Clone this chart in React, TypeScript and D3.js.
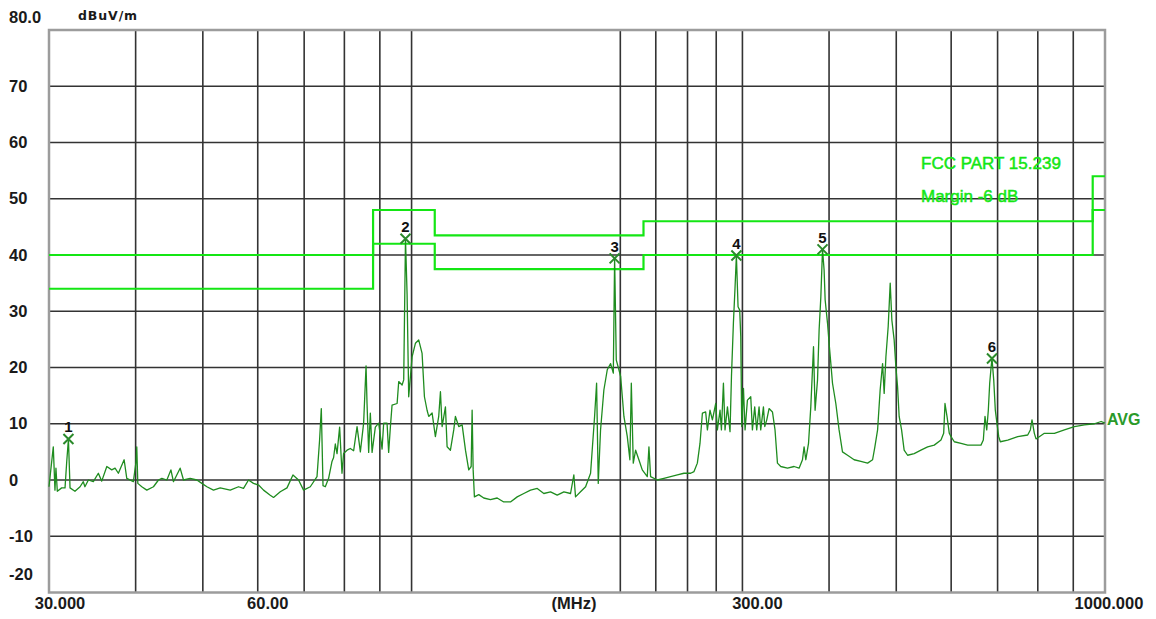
import React from "react";
import * as d3 from "d3";

const W = 1156;
const H = 619;
const PLOT = { left: 49, right: 1105, top: 30, bottom: 592.5 };

// Y axis (dBuV/m)
const yDomain: [number, number] = [-20, 80];
const yTicks = [80, 70, 60, 50, 40, 30, 20, 10, 0, -10, -20];
const yTickLabels = ["80.0", "70", "60", "50", "40", "30", "20", "10", "0", "-10", "-20"];

// X axis (MHz, log)
const xDomain: [number, number] = [30, 1000];
const xGridMHz = [40, 50, 60, 70, 80, 90, 100, 200, 225, 250, 275, 300, 400, 500, 600, 700, 800, 900];
const xTickMHz = [30, 60, 300, 1000];
const xTickLabels = ["30.000", "60.00", "300.00", "1000.000"];

// Limit lines
const limitEdgesMHz = [30, 88, 108, 216, 960, 1000];
const limitDb = [40, 48, 43.5, 46, 54];
const marginDb = [34, 42, 37.5, 40, 48];

// Markers
const markerMHz = [32.0, 98.0, 196.25, 294.05, 391.4, 687.1];
const markerDb = [7.3, 42.9, 39.4, 39.9, 41.0, 21.6];
const markerLabels = ["1", "2", "3", "4", "5", "6"];

// Measured trace [MHz, dBuV/m]
const trace: [number, number][] = [
  [30.0, -1.2], [30.43, 5.9], [30.6, -1.8], [30.7, 2.1], [30.84, -2], [31.29, -1.4], [31.64, -1.4], [31.82, 3.3],
  [32.0, 7.3], [32.17, -1.4], [32.7, -2], [33.26, -1.2], [33.62, -0.3], [33.8, -1.2], [34.19, 0], [34.76, -0.3],
  [35.34, 1.2], [35.74, -0.2], [36.35, 2.4], [36.95, 1.8], [37.36, 2.1], [37.77, 1.2], [38.5, 3.6], [38.84, 0.3],
  [39.7, -0.3], [40.06, 3.3], [40.15, 5.9], [40.29, -0.6], [40.83, -1.2], [41.51, -1.8], [42.44, -1.2], [43.15, 0],
  [43.64, 0.3], [44.37, 0], [44.97, 1.8], [45.35, -0.3], [46.37, 2.1], [46.89, 0], [47.94, 0.3], [49.02, 0],
  [49.84, -0.6], [50.68, -1.2], [51.8, -1.8], [52.97, -1.4], [54.76, -1.8], [56.29, -1.2], [57.23, -1.5], [58.19, 0],
  [59.16, -0.6], [60.17, -0.9], [61.17, -1.8], [62.54, -2.7], [63.23, -3.1], [64.66, -2.1], [66.12, -1.4], [67.44, 0.9],
  [68.71, 0], [69.86, -1.8], [71.44, -1.2], [73.05, 0.6], [73.68, 7.1], [74.1, 12.7], [74.52, -1], [75.09, -1.2],
  [75.92, 0.3], [76.78, 3.3], [77.19, 4], [77.63, 6.4], [78.07, 4.7], [78.75, 9.4], [79.37, 1.2], [79.79, 4.7],
  [80.72, 5.3], [81.59, 5.6], [82.5, 5.2], [83.44, 9.5], [84.36, 5.0], [85.28, 10.1], [85.97, 20.3], [86.25, 13.6],
  [86.72, 4.9], [87.2, 11.9], [87.71, 4.9], [88.66, 9.4], [89.65, 10.1], [90.67, 5.5], [91.15, 10.1], [92.18, 10.1],
  [92.67, 4.9], [93.2, 9.4], [93.72, 13.3], [95.31, 13.6], [95.82, 17.5], [96.9, 16.9], [97.42, 17.8], [98.0, 42.9],
  [98.52, 33], [99.05, 14.8], [99.62, 18.4], [100.17, 21.9], [101.28, 24.3], [102.39, 24.9], [103.55, 22.5], [104.36, 14.8],
  [105.28, 12.4], [105.86, 11.3], [107.06, 11.9], [108.23, 7.7], [109.43, 11.3], [110.06, 15.7], [110.67, 9.5], [111.9, 13],
  [112.52, 5.9], [113.77, 5.3], [115.03, 8.9], [115.67, 11.3], [116.96, 9.5], [118.28, 9.8], [119.6, 5.3], [120.9, 1.8],
  [121.88, 2.4], [122.27, 12.4], [122.69, 1.8], [123.2, -3], [125, -2.6], [127.09, -3.2], [129.93, -3.5], [132.87, -3.2],
  [135.81, -3.9], [138.87, -3.9], [142.01, -3.0], [145.15, -2.4], [148.43, -1.8], [151.78, -1.5], [155.14, -2.4], [158.65, -2.1],
  [162.19, -2.7], [165.82, -2.1], [169.53, -2.4], [171.41, 0.9], [172.36, -3], [175.25, -2.1], [178.22, -1.2], [181.19, 1.2],
  [183.62, 11.3], [184.85, 17.2], [185.87, -0.6], [187.29, 8.9], [189.37, 16], [191.52, 19.6], [193.65, 20.7], [195.4, 19.0],
  [196.25, 39.4], [197.34, 21.3], [199.07, 19.6], [200.22, 18.4], [201.33, 14.8], [202.4, 11.3], [204.69, 7.7], [206.45, 3.6],
  [207.44, 17.2], [208.79, 3.0], [210.43, 5.3], [212.72, 3.6], [215.13, 1.8], [218.73, 0.6], [219.94, 5.9], [221.16, 0.6],
  [226.16, 0], [231.16, 0.3], [236.38, 0.6], [241.71, 0.9], [247.06, 1.2], [252.64, 1.2], [255.45, 1.5], [258.3, 3],
  [260.57, 6.5], [262.67, 11.9], [265.54, 12.1], [267.07, 8.9], [269.36, 12.4], [271.54, 10.7], [274.55, 13.6], [276.08, 8.9],
  [278.5, 12.4], [279.79, 8.9], [281.66, 17.2], [283.16, 8.9], [285.45, 13], [287.89, 8.6], [289.28, 18.4], [291.15, 27.9],
  [292.7, 34.1], [294.05, 39.9], [295.68, 30.8], [297.32, 30.2], [298.35, 25.5], [299.31, 9.5], [301.04, 16.3], [302.64, 8.9],
  [305.02, 14.2], [308.41, 14.8], [310.12, 8.9], [312.49, 13], [314.58, 8.9], [317.05, 13], [318.81, 8.9], [321.68, 13],
  [323.09, 9.5], [325.26, 10.7], [327.74, 12.7], [331.46, 12.1], [334.3, 8.9], [337, 3], [340.75, 2.4], [348.44, 2.1],
  [356.15, 2.4], [362.1, 2.1], [366.21, 3.6], [368.16, 5.9], [370.28, 3.6], [373.62, 6.5], [376.47, 13], [379.87, 23.7],
  [381.88, 12.4], [384.97, 17.8], [387.02, 26.7], [389.25, 32.6], [391.41, 41], [393.49, 37.3], [394.85, 32], [397.95, 27.9],
  [400.06, 24.3], [402.37, 20.7], [404.6, 17.2], [409.09, 13.6], [413.54, 8.9], [418.23, 5], [425.33, 4.4], [434.74, 3.6],
  [444.56, 3.3], [454.6, 3], [462.21, 3.6], [465.73, 5.9], [469.94, 8.9], [473.96, 16], [477.8, 20.7], [480.33, 15.4],
  [483.11, 21.9], [486.79, 27.3], [490.05, 35], [492.77, 28.4], [496.52, 24.9], [499.39, 20.1], [502.16, 16.6], [504.83, 11.3],
  [508.91, 8.9], [513.27, 5.3], [519.21, 4.4], [530.69, 4.7], [542.66, 5.3], [554.93, 5.9], [567.22, 6.2], [580.03, 7.1],
  [585.27, 8.3], [587.83, 13.6], [591.77, 11.3], [596.28, 8.3], [599.72, 7.7], [606.26, 6.8], [619.96, 6.5], [633.83, 6.2],
  [647.98, 6.2], [662.41, 6.2], [667.62, 7.1], [671.32, 11.3], [675.2, 8.9], [678.78, 12.4], [681.91, 17.2], [684.91, 19.9],
  [687.12, 21.6], [691.08, 17.8], [694.76, 12.4], [698.6, 10], [702.64, 7.7], [706.37, 6.8], [723.98, 7.1], [748.38, 7.7],
  [773.6, 8], [780.4, 8.9], [784.73, 10.7], [790.89, 8.3], [795.28, 7.3], [817.57, 8.3], [845.32, 8.3], [873.82, 8.9],
  [903.3, 9.5], [933.98, 9.8], [965.47, 10.0], [987.3, 10.4], [1000, 10.1],
];

const x = d3.scaleLog().domain(xDomain).range([PLOT.left, PLOT.right]);
const y = d3.scaleLinear().domain(yDomain).range([PLOT.bottom, PLOT.top]);

const stepLine = d3
  .line<[number, number]>()
  .x((d) => x(d[0]))
  .y((d) => y(d[1]))
  .curve(d3.curveStepAfter);

const traceLine = d3
  .line<[number, number]>()
  .x((d) => x(d[0]))
  .y((d) => y(d[1]));

function stepPoints(levels: number[]): [number, number][] {
  const pts: [number, number][] = levels.map((v, i) => [limitEdgesMHz[i], v]);
  pts.push([limitEdgesMHz[limitEdgesMHz.length - 1], levels[levels.length - 1]]);
  return pts;
}

const AXIS_FONT = "'Liberation Sans', Arial, sans-serif";
const LIMIT_GREEN = "#14e614";
const TRACE_GREEN = "#1f8c1f";

export default function App() {
  const xLabelDx = [11, 10, 15, 4];
  return (
    <svg
      width={W}
      height={H}
      viewBox={`0 0 ${W} ${H}`}
      style={{ position: "fixed", left: 0, top: 0, background: "#fff" }}
    >
      <rect x={0} y={0} width={W} height={H} fill="#fff" />
      {/* horizontal grid */}
      {yTicks
        .filter((v) => v !== 80 && v !== -20)
        .map((v) => (
          <line key={"h" + v} x1={PLOT.left} x2={PLOT.right} y1={y(v)} y2={y(v)} stroke="#333" strokeWidth={1.6} />
        ))}
      {/* vertical grid */}
      {xGridMHz.map((f) => (
        <line key={"v" + f} x1={x(f)} x2={x(f)} y1={PLOT.top} y2={PLOT.bottom} stroke="#333" strokeWidth={1.6} />
      ))}
      {/* border */}
      <rect
        x={PLOT.left}
        y={PLOT.top}
        width={PLOT.right - PLOT.left}
        height={PLOT.bottom - PLOT.top}
        fill="none"
        stroke="#9c9c9c"
        strokeWidth={2.5}
      />
      {/* y labels */}
      {yTicks.map((v, i) => {
        let by = y(v) + 5.5;
        if (v === 80) by = y(v) - 7;
        if (v === -20) by = y(v) - 12.5;
        return (
          <text key={"yl" + v} x={9} y={by} fontFamily={AXIS_FONT} fontWeight="bold" fontSize={16.5} fill="#1a1a1a">
            {yTickLabels[i]}
          </text>
        );
      })}
      <text x={78} y={20} fontFamily="'DejaVu Sans', sans-serif" fontWeight="bold" fontSize={12.5} letterSpacing={0.9} fill="#1a1a1a">
        dBuV/m
      </text>
      {/* x labels */}
      {xTickMHz.map((f, i) => (
        <text
          key={"xl" + f}
          x={x(f) + xLabelDx[i]}
          y={609}
          textAnchor="middle"
          fontFamily={AXIS_FONT}
          fontWeight="bold"
          fontSize={16.5}
          fill="#1a1a1a"
        >
          {xTickLabels[i]}
        </text>
      ))}
      <text x={(PLOT.left + PLOT.right) / 2 - 3} y={609} textAnchor="middle" fontFamily={AXIS_FONT} fontWeight="bold" fontSize={16.5} fill="#1a1a1a">
        (MHz)
      </text>
      {/* limit lines */}
      <path d={stepLine(stepPoints(limitDb)) || ""} fill="none" stroke={LIMIT_GREEN} strokeWidth={2.2} />
      <path d={stepLine(stepPoints(marginDb)) || ""} fill="none" stroke={LIMIT_GREEN} strokeWidth={2.2} />
      <text x={921} y={169} fontFamily={AXIS_FONT} fontSize={17} fill={LIMIT_GREEN} stroke={LIMIT_GREEN} strokeWidth={0.5}>
        FCC PART 15.239
      </text>
      <text x={921} y={202} fontFamily={AXIS_FONT} fontSize={17} fill={LIMIT_GREEN} stroke={LIMIT_GREEN} strokeWidth={0.5}>
        Margin -6 dB
      </text>
      {/* trace */}
      <path d={traceLine(trace) || ""} fill="none" stroke={TRACE_GREEN} strokeWidth={1.3} strokeLinejoin="round" />
      <text x={1107} y={425} fontFamily={AXIS_FONT} fontWeight="bold" fontSize={16} fill="#2a9a2a">
        AVG
      </text>
      {/* markers */}
      {markerMHz.map((f, i) => {
        const cx = x(f);
        const cy = y(markerDb[i]);
        return (
          <g key={"m" + i}>
            <path
              d={`M${cx - 5},${cy - 5}L${cx + 5},${cy + 5}M${cx + 5},${cy - 5}L${cx - 5},${cy + 5}`}
              stroke="#2b8a2b"
              strokeWidth={2}
              fill="none"
            />
            <text x={cx} y={cy - 6.5} textAnchor="middle" fontFamily={AXIS_FONT} fontWeight="bold" fontSize={15} fill="#111">
              {markerLabels[i]}
            </text>
          </g>
        );
      })}
    </svg>
  );
}
